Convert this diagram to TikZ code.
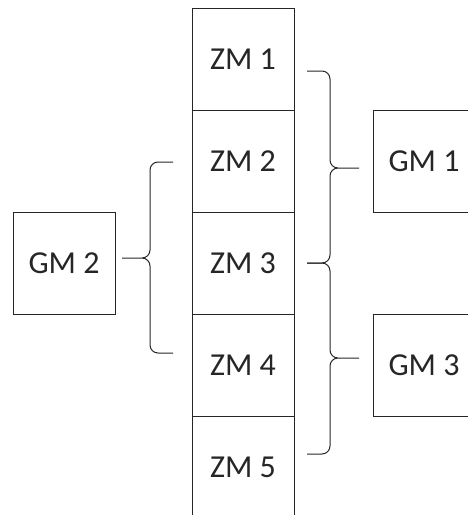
\documentclass[tikz,border=0pt]{standalone}
\usepackage{fontspec}
\setmainfont{Carlito}
\usetikzlibrary{positioning}

\tikzset{
  mbox/.style = {draw, minimum width = 102, minimum height = 102, inner sep = 0, outer sep = 0, font = \fontsize{32}{38}\selectfont},
  brace/.style = {rounded corners = 8}
}

\begin{document}
\begin{tikzpicture}[x = 1pt, y = -1pt, line width = 1pt, color = black!85]
\useasboundingbox (0, 0) rectangle (467, 515);
% column of ZM boxes
\node[mbox] (zm1) at (243, 59) {ZM 1};
\node[mbox, below = 0 of zm1] (zm2) {ZM 2};
\node[mbox, below = 0 of zm2] (zm3) {ZM 3};
\node[mbox, below = 0 of zm3] (zm4) {ZM 4};
\node[mbox, below = 0 of zm4] (zm5) {ZM 5};
% group boxes
\node[mbox, right = 79 of zm2] (gm1) {GM 1};
\node[mbox, left = 77 of zm3] (gm2) {GM 2};
\node[mbox, right = 79 of zm4] (gm3) {GM 3};
% brace ends
\coordinate (r1) at (307, 71);
\coordinate (r2) at (307, 263);
\coordinate (r3) at (307, 454);
\coordinate (t1) at (359, 168);
\coordinate (t3) at (359, 358);
\coordinate (l1) at (173, 162);
\coordinate (l2) at (173, 353);
\coordinate (t2) at (122, 258);
\draw[brace] (r1) -| (330, 168) -- (t1) (r2) -| (330, 168) -- (t1);
\draw[brace] (r2) -| (330, 358) -- (t3) (r3) -| (330, 358) -- (t3);
\draw[brace] (l1) -| (150, 258) -- (t2) (l2) -| (150, 258) -- (t2);
\end{tikzpicture}
\end{document}
